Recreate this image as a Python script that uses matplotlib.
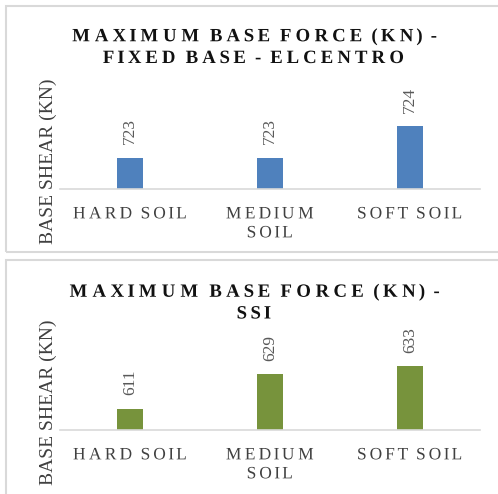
import matplotlib
matplotlib.use("Agg")
import numpy as np
import matplotlib.pyplot as plt
from matplotlib.patches import Rectangle
from matplotlib.path import Path
from matplotlib import patheffects

categories = ["HARD SOIL", "MEDIUM\nSOIL", "SOFT SOIL"]
fixed_values = [723, 723, 724]
ssi_values = [611, 629, 633]
title_fixed = "MAXIMUM BASE FORCE (KN) -\nFIXED BASE - ELCENTRO"
title_ssi = "MAXIMUM BASE FORCE (KN) -\nSSI"
ylabel = "BASE SHEAR (KN)"

W, H = 498, 494
plt.rcParams['font.family'] = ['Liberation Serif', 'DejaVu Serif']
fig = plt.figure(figsize=(W / 100, H / 100), dpi=100)
fig.patch.set_facecolor("white")


class Tracking(patheffects.AbstractPathEffect):
    """Widen letter spacing of a text line, keeping it centred."""

    def __init__(self, spread):
        super().__init__()
        self.spread = spread

    def draw_path(self, renderer, gc, tpath, affine, rgbFace=None):
        verts = np.array(tpath.vertices, dtype=float)
        codes = tpath.codes
        if codes is None or len(verts) == 0:
            renderer.draw_path(gc, tpath, affine, rgbFace)
            return
        real = codes != Path.CLOSEPOLY
        mid = (verts[real, 0].min() + verts[real, 0].max()) / 2
        starts = list(np.where(codes == Path.MOVETO)[0]) + [len(verts)]
        for a, b in zip(starts[:-1], starts[1:]):
            seg = verts[a:b]
            m = real[a:b]
            if not m.any():
                continue
            cx = (seg[m, 0].min() + seg[m, 0].max()) / 2
            verts[a:b, 0] += self.spread * (cx - mid)
        renderer.draw_path(gc, Path(verts, codes), affine, rgbFace)


def fx(px):
    return px / W


def fy(py):
    return 1 - py / H


# panel borders
for (y0, y1) in [(6, 252), (260, 520)]:
    fig.patches.append(Rectangle((fx(6), fy(y1)), fx(600) - fx(6), fy(y0) - fy(y1),
                                 transform=fig.transFigure, fill=False,
                                 edgecolor="#d9d9d9", linewidth=1.5))


def panel(values, color, base, top, ylim, title, title_y, spread):
    ax = fig.add_axes([fx(60), fy(base), fx(480) - fx(60), fy(top) - fy(base)])
    x = list(range(len(categories)))
    bars = ax.bar(x, values, width=0.19, color=color)
    ax.set_ylim(*ylim)
    ax.set_xlim(-0.5, 2.5)
    ax.set_xticks(x)
    ax.set_xticklabels(categories, fontsize=12.5, linespacing=1.25, color="#404040")
    for lab in ax.get_xticklabels():
        lab.set_path_effects([Tracking(0.27)])
    ax.tick_params(axis='x', length=0, pad=12.5)
    ax.set_yticks([])
    for s in ["top", "right", "left"]:
        ax.spines[s].set_visible(False)
    ax.spines["bottom"].set_color("#d9d9d9")
    ax.spines["bottom"].set_linewidth(1.2)
    ax.bar_label(bars, labels=[str(v) for v in values], rotation=90, padding=9.5,
                 fontsize=12.5, color="#595959")
    ax.set_facecolor("none")
    t = fig.text(fx(253.5), fy(title_y), title, ha="center", va="center",
                 fontsize=13.5, fontweight="bold", linespacing=1.36, color="#111111")
    t.set_path_effects([Tracking(spread)])
    fig.text(fx(48), fy(base - 27.5), ylabel, rotation=90, ha="center",
             va="center", fontsize=14, color="#404040")
    return ax


panel(fixed_values, "#4F81BD", 189, 95, (722, 725), title_fixed, 47.5, 0.31)
panel(ssi_values, "#77933C", 430, 333, (600, 650), title_ssi, 303, 0.33)

fig.savefig("out.png", dpi=100, facecolor="white")
